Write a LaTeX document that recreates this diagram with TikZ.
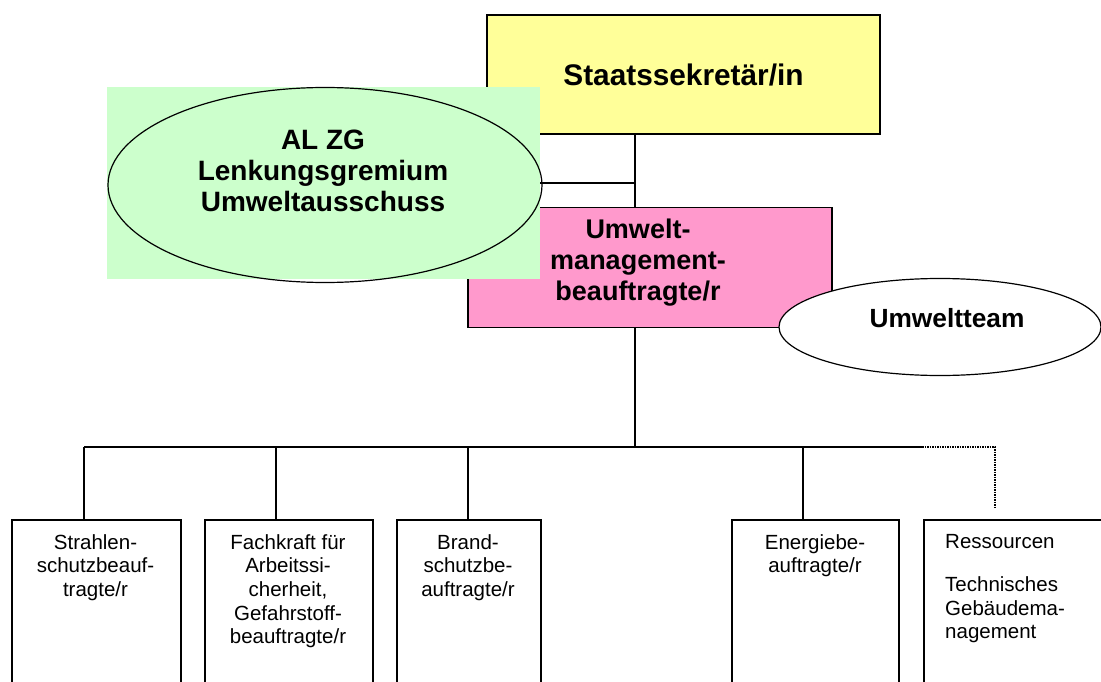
\documentclass[tikz,border=0pt]{standalone}
\usepackage{fontspec}
\setmainfont{Liberation Sans}
\usetikzlibrary{shapes.geometric}
\definecolor{yel}{HTML}{FFFF99}
\definecolor{grn}{HTML}{CCFFCC}
\definecolor{pnk}{HTML}{FF99CC}
\tikzset{
  ln/.style={line width=1.5pt},
  topbox/.style={draw, line width=1.5pt, rectangle, inner sep=0pt},
  bigtxt/.style={font=\bfseries\fontsize{27}{31}\selectfont, align=center, inner sep=0pt},
  lowbox/.style={draw, line width=1.5pt, rectangle, inner sep=0pt, anchor=north west, minimum height=200pt},
  lowtxt/.style={font=\fontsize{20.5}{23.7}\selectfont, align=center, inner sep=0pt, anchor=north},
  dotln/.style={line width=2pt, dash pattern=on 1.6pt off 0.9pt}
}
\begin{document}
\begin{tikzpicture}[x=1pt,y=-1pt]
\useasboundingbox (0,0) rectangle (1101,682);
\clip (0,0) rectangle (1101,682);
% top boxes
\node[topbox, fill=yel, minimum width=393pt, minimum height=119pt] (staats) at (683.5,74.5) {};
\node[bigtxt, font=\bfseries\fontsize{29.8}{31}\selectfont] (staatstxt) at (683.5,75) {Staatssekretär/in};
\node[topbox, fill=pnk, minimum width=364pt, minimum height=120pt] (uwm) at (650,267.5) {};
\node[bigtxt] (uwmtxt) at (638,263) {Umwelt-\\management-\\beauftragte/r};
% green background and ellipse
\node[rectangle, fill=grn, inner sep=0pt, minimum width=433pt, minimum height=192pt] (gremiumbg) at (323.5,183) {};
\node[ellipse, draw, line width=1.2pt, inner sep=0pt, minimum width=434pt, minimum height=195pt] (gremium) at (325,185) {};
\node[bigtxt, font=\bfseries\fontsize{28}{31}\selectfont] (gremiumtxt) at (323,171) {AL ZG\\Lenkungsgremium\\Umweltausschuss};
% Umweltteam
\node[ellipse, draw, fill=white, line width=1.2pt, inner sep=0pt, minimum width=322pt, minimum height=97pt] (team) at (940,327) {};
\node[bigtxt, font=\bfseries\fontsize{26.3}{31}\selectfont] (teamtxt) at (947,318) {Umweltteam};
% connectors top
\coordinate (joint) at (635,183);
\draw[ln] (joint |- staats.south) -- (joint |- uwm.north);
\draw[ln] (gremiumbg.east |- joint) -- (joint);
% lower boxes
\node[lowbox, minimum width=169pt] (b1) at (11,519) {};
\node[lowbox, minimum width=168pt] (b2) at (204,519) {};
\node[lowbox, minimum width=144pt] (b3) at (396,519) {};
\node[lowbox, minimum width=167pt] (b4) at (731,519) {};
\node[lowbox, minimum width=250pt] (b5) at (923,519) {};
\node[lowtxt] (t1) at (95.5,534) {Strahlen-\\schutzbeauf-\\tragte/r};
\node[lowtxt] (t2) at (288,534) {Fachkraft für\\Arbeitssi-\\cherheit,\\Gefahrstoff-\\beauftragte/r};
\node[lowtxt] (t3) at (468,534) {Brand-\\schutzbe-\\auftragte/r};
\node[lowtxt] (t4) at (815,534) {Energiebe-\\auftragte/r};
\node[lowtxt, anchor=north west, align=left] (t5) at (945,534) {Ressourcen\\[19.5pt]Technisches\\Gebäudema-\\nagement};
% bus
\coordinate (bus) at (635,447);
\coordinate (busl) at (84,447);
\coordinate (busr) at (922,447);
\coordinate (dotc) at (995,447);
\coordinate (dotend) at (995,508);
\draw[ln] (joint |- uwm.south) -- (bus);
\draw[ln] (busl) -- (busr);
\draw[ln] (busl) -- (busl |- b1.north);
\draw[ln] (276,447) -- (276,519);
\draw[ln] (468,447) -- (468,519);
\draw[ln] (803,447) -- (803,519);
\draw[dotln] (busr) -- (dotc) -- (dotend);
\end{tikzpicture}
\end{document}
